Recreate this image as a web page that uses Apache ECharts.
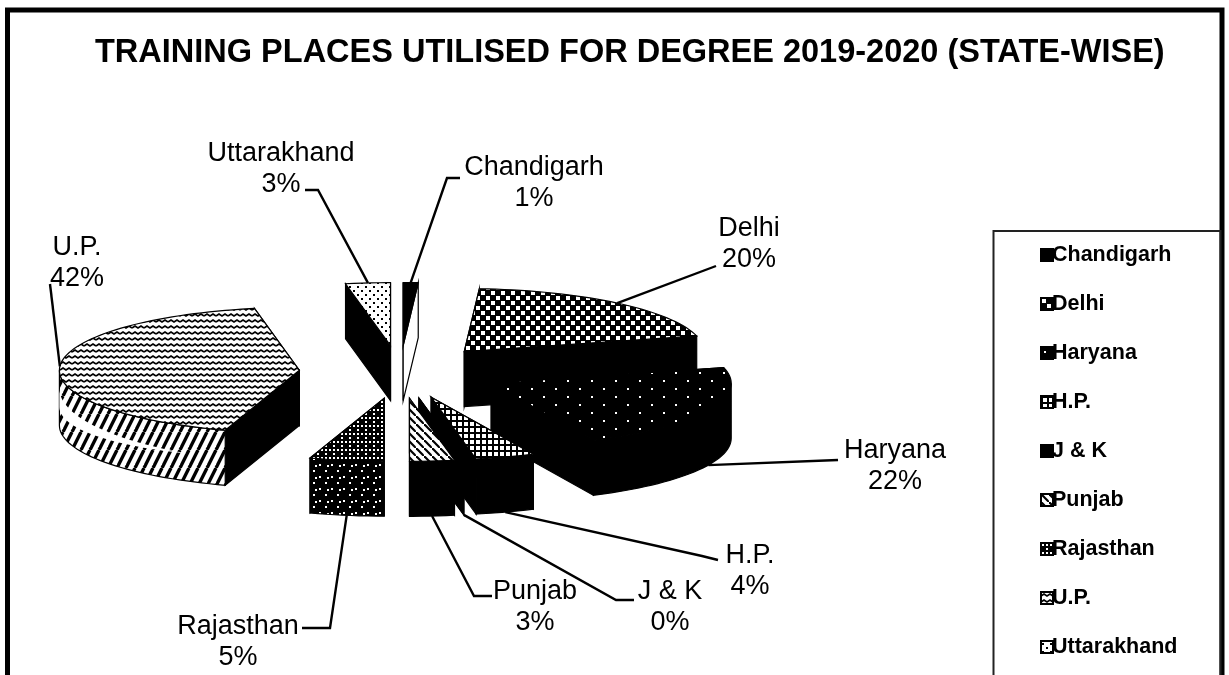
<!DOCTYPE html>
<html>
<head>
<meta charset="utf-8">
<title>Training places</title>
<script src="https://cdn.jsdelivr.net/npm/echarts@6/dist/echarts.min.js"></script>
<style>
  html, body { margin: 0; padding: 0; background: #fff; }
  #main { width: 1229px; height: 675px; }
</style>
</head>
<body>
<div id="main"></div>
<script>
  var titleText = 'TRAINING PLACES UTILISED FOR DEGREE 2019-2020 (STATE-WISE)';
  var states = ['Chandigarh', 'Delhi', 'Haryana', 'H.P.', 'J & K', 'Punjab', 'Rajasthan', 'U.P.', 'Uttarakhand'];
  var values = [1, 20, 22, 4, 0, 3, 5, 42, 3];
  var total = values.reduce(function (a, b) { return a + b; }, 0);

  // pie shape, the slices are flattened to look 3d
  var cx = 400, cy = 372, rx = 240, ry = 63, depth = 55, explode = 0.42;
  var font = 'Liberation Sans, Arial, sans-serif';

  // where each label goes: text centre and the elbow of its leader line
  var labelLayout = {
    'Chandigarh': { x: 534, y: 183, line: [[460, 178], [447, 178]] },
    'Delhi': { x: 749, y: 244, line: [[716, 266]] },
    'Haryana': { x: 895, y: 466, line: [[838, 460]] },
    'H.P.': { x: 750, y: 571, line: [[718, 560], [702, 556]] },
    'J & K': { x: 670, y: 607, line: [[634, 600], [616, 600]] },
    'Punjab': { x: 535, y: 607, line: [[492, 596], [474, 596]] },
    'Rajasthan': { x: 238, y: 642, line: [[302, 628], [330, 628]] },
    'U.P.': { x: 77, y: 263, line: [[50, 284]] },
    'Uttarakhand': { x: 281, y: 169, line: [[305, 190], [318, 190]] }
  };
  // draw from the back to the front
  var drawOrder = ['Chandigarh', 'Uttarakhand', 'Delhi', 'Haryana', 'U.P.', 'H.P.', 'J & K', 'Rajasthan', 'Punjab'];

  function tile(w, h, bg, draw) {
    var c = document.createElement('canvas');
    c.width = w; c.height = h;
    var g = c.getContext('2d');
    g.fillStyle = bg;
    g.fillRect(0, 0, w, h);
    g.fillStyle = '#000'; g.strokeStyle = '#000';
    draw(g);
    return { image: c, repeat: 'repeat' };
  }
  function dots(color, pts) {
    return function (g) {
      g.fillStyle = color;
      pts.forEach(function (p) { g.fillRect(p[0], p[1], 2, 2); });
    };
  }
  var solid = '#000';
  var hatchWall = tile(9, 18, '#fff', function (g) {
    g.lineWidth = 3.4;
    [-9, 0, 9].forEach(function (x) {
      g.beginPath(); g.moveTo(x + 9, 0); g.lineTo(x, 18); g.stroke();
    });
  });
  var wave = tile(12, 6, '#fff', function (g) {
    g.lineWidth = 1.6;
    g.beginPath(); g.moveTo(0, 4); g.lineTo(3, 2); g.lineTo(6, 4); g.lineTo(9, 2); g.lineTo(12, 4); g.stroke();
  });
  var lattice = tile(10, 10, '#000', dots('#fff', [[1, 1], [3, 1], [1, 3], [3, 3], [6, 6], [8, 6], [6, 8], [8, 8]]));
  var sparse = tile(24, 16, '#000', dots('#fff', [[3, 4], [15, 12]]));
  var grid = tile(6, 6, '#fff', function (g) { g.fillRect(0, 0, 6, 2); g.fillRect(0, 0, 2, 6); });
  var diagonal = tile(8, 8, '#fff', function (g) {
    g.lineWidth = 2.2;
    g.beginPath(); g.moveTo(0, 0); g.lineTo(8, 8); g.stroke();
  });
  var speckTop = tile(8, 8, '#000', dots('#fff', [[1, 1], [5, 5], [5, 1]]));
  var speckWall = tile(12, 12, '#000', dots('#fff', [[1, 2], [7, 8], [3, 9]]));
  var lightSpeck = tile(8, 8, '#fff', dots('#000', [[1, 2], [5, 6]]));

  var topFill = {
    'Chandigarh': solid, 'Delhi': lattice, 'Haryana': sparse, 'H.P.': grid, 'J & K': solid,
    'Punjab': diagonal, 'Rajasthan': speckTop, 'U.P.': wave, 'Uttarakhand': lightSpeck
  };
  var sideFill = {
    'Chandigarh': '#fff', 'Delhi': solid, 'Haryana': solid, 'H.P.': solid, 'J & K': solid,
    'Punjab': solid, 'Rajasthan': speckWall, 'U.P.': solid, 'Uttarakhand': solid
  };
  var rimFill = {
    'Delhi': solid, 'Haryana': solid, 'H.P.': solid, 'Punjab': solid, 'Rajasthan': speckWall, 'U.P.': hatchWall
  };

  function onRim(c, deg, down) {
    var a = deg * Math.PI / 180;
    return [c[0] + rx * Math.sin(a), c[1] - ry * Math.cos(a) + (down || 0)];
  }
  function poly(points, fill, lw) {
    return { type: 'polygon', shape: { points: points }, style: { fill: fill, stroke: '#000', lineWidth: lw === undefined ? 1.2 : lw } };
  }

  function renderSlice(index) {
    return function (params, api) {
      var value = api.value(0);
      var name = states[index];
      var before = 0;
      for (var i = 0; i < index; i++) before += values[i];
      var start = before / total * 360;
      var end = (before + value) / total * 360;
      var mid = (start + end) / 2;
      var midA = mid * Math.PI / 180;
      var apex = [cx + explode * rx * Math.sin(midA), cy - explode * ry * Math.cos(midA)];
      var low = [apex[0], apex[1] + depth];

      var arc = [];
      for (var d = start; d < end; d += 2) arc.push(onRim(apex, d));
      arc.push(onRim(apex, end));

      var children = [];
      // the two cut faces
      [start, end].forEach(function (deg) {
        children.push(poly([apex, low, onRim(apex, deg, depth), onRim(apex, deg)], sideFill[name]));
      });
      // the round outer wall, only the part facing us
      var from = Math.max(start, 90), to = Math.min(end, 270);
      if (to > from) {
        var wall = [], wallLow = [];
        for (d = from; d < to; d += 2) { wall.push(onRim(apex, d)); wallLow.unshift(onRim(apex, d, depth)); }
        wall.push(onRim(apex, to)); wallLow.unshift(onRim(apex, to, depth));
        children.push(poly(wall.concat(wallLow), rimFill[name]));
        if (name === 'U.P.') {
          // white band round the wall, runs out towards the front
          var bandUp = [], bandDown = [];
          for (d = 270; d >= 208; d -= 2) {
            var w = (d - 208) / 62;
            bandUp.push(onRim(apex, d, depth * (0.5 - 0.17 * w)));
            bandDown.unshift(onRim(apex, d, depth * (0.5 + 0.17 * w)));
          }
          children.push(poly(bandUp.concat(bandDown), '#fff', 0));
        }
      }
      // top face
      children.push(poly([apex].concat(arc), topFill[name]));

      // leader line and label
      var lay = labelLayout[name];
      var tip = onRim(apex, mid, Math.cos(midA) < 0 ? depth : 0);
      children.push({
        type: 'polyline',
        shape: { points: lay.line.concat([tip]) },
        style: { fill: null, stroke: '#000', lineWidth: 2.4 }
      });
      children.push({
        type: 'text',
        style: {
          x: lay.x, y: lay.y,
          text: name + '\n' + Math.round(value / total * 100) + '%',
          font: '27px ' + font,
          fill: '#000', align: 'center', verticalAlign: 'middle', lineHeight: 31
        }
      });
      return { type: 'group', children: children };
    };
  }

  var chart = echarts.init(document.getElementById('main'));
  chart.setOption({
    animation: false,
    backgroundColor: '#fff',
    title: {
      text: titleText,
      left: 90,
      top: 32,
      textStyle: { fontFamily: font, fontSize: 32.5, fontWeight: 'bold', color: '#000' }
    },
    legend: {
      orient: 'vertical',
      left: 1035,
      top: 239,
      itemWidth: 12,
      itemHeight: 12,
      itemGap: 27,
      icon: 'rect',
      data: states,
      itemStyle: { borderColor: '#000', borderWidth: 2 },
      textStyle: { fontFamily: font, fontSize: 21.5, fontWeight: 'bold', color: '#000', padding: [0, 0, 0, -6] }
    },
    graphic: [
      { type: 'polyline', silent: true, shape: { points: [[7.5, 700], [7.5, 10], [1222, 10], [1222, 700]] }, style: { fill: null, stroke: '#000', lineWidth: 5 } },
      { type: 'rect', silent: true, shape: { x: 993.5, y: 231, width: 227, height: 460 }, style: { fill: null, stroke: '#222', lineWidth: 2 } }
    ],
    series: states.map(function (name, i) {
      return {
        type: 'custom',
        name: name,
        coordinateSystem: 'none',
        z: 2 + drawOrder.indexOf(name) / 10,
        itemStyle: { color: topFill[name] },
        data: [[values[i]]],
        renderItem: renderSlice(i)
      };
    })
  });
</script>
</body>
</html>
